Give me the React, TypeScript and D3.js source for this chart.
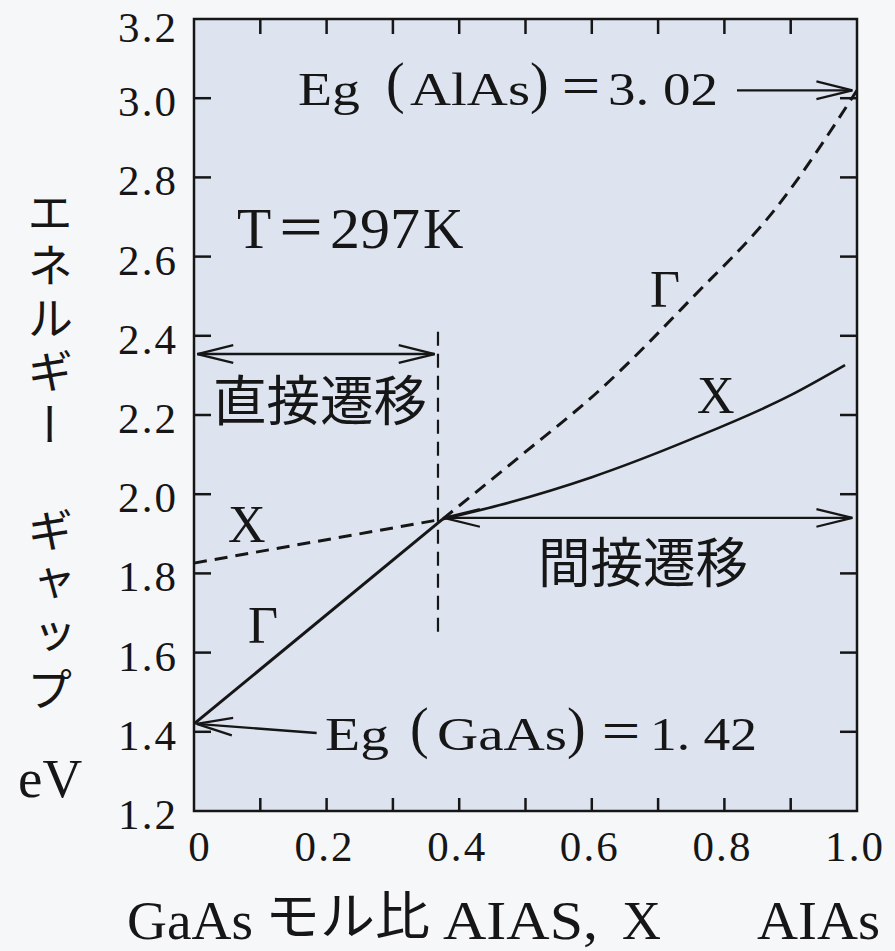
import React, { useRef, useEffect } from 'react'
import * as d3 from 'd3'

// axis ticks
const xTickValues = [0, 0.2, 0.4, 0.6, 0.8, 1.0]
const xTickLabels = ['0', '0.2', '0.4', '0.6', '0.8', '1.0']
const xMinorTicks = [0.1, 0.2, 0.3, 0.4, 0.5, 0.6, 0.7, 0.8, 0.9]
const yTickValues = [1.2, 1.4, 1.6, 1.8, 2.0, 2.2, 2.4, 2.6, 2.8, 3.0, 3.2]
const yTickLabels = ['1.2', '1.4', '1.6', '1.8', '2.0', '2.2', '2.4', '2.6', '2.8', '3.0', '3.2']
const yInnerTicks = [1.4, 1.6, 1.8, 2.0, 2.2, 2.4, 2.6, 2.8, 3.0]

// band edges [mole fraction x, energy eV]
const gammaDirect = [[0, 1.42], [0.375, 1.937]]
const gammaIndirect = [[0.375, 1.937], [0.492, 2.096], [0.612, 2.263], [0.748, 2.49], [0.879, 2.725], [1.0, 3.02]]
const xValleyDirect = [[0, 1.826], [0.375, 1.937]]
const xValleyIndirect = [[0.375, 1.937], [0.46, 1.972], [0.6, 2.043], [0.75, 2.139], [0.9, 2.25], [0.982, 2.326]]

// boundary between direct / indirect
const boundaryX = 0.368
const boundaryRange = [1.637, 2.41]

// gap values
const egGaAs = 1.42
const egAlAs = 3.02

const yTitle = 'エネルギー　ギャップ'

const SERIF = "'Liberation Serif', serif"
const CJK = "'Noto Sans CJK JP', sans-serif"
const INK = '#161616'

export default function App() {
    const ref = useRef(null)

    useEffect(() => {
        d3.select(ref.current).selectAll('*').remove()
        const svg = d3.select(ref.current)

        const width = 895
        const height = 951

        const x = d3.scaleLinear().domain([0, 1]).range([194, 857])
        const y = d3.scaleLinear().domain([1.2, 3.2]).range([811, 19])

        svg.append('rect')
            .attr('x', 0).attr('y', 0)
            .attr('width', width).attr('height', height)
            .attr('fill', '#f6f7f9')

        // plot area
        svg.append('rect')
            .attr('x', x(0)).attr('y', y(3.2))
            .attr('width', x(1) - x(0)).attr('height', y(1.2) - y(3.2))
            .attr('fill', '#dde4f0')

        // ticks (inward, all four sides)
        const ticks = svg.append('g').attr('stroke', INK).attr('stroke-width', 2.5)
        xMinorTicks.forEach(v => {
            ticks.append('line').attr('x1', x(v)).attr('x2', x(v)).attr('y1', y(3.2)).attr('y2', y(3.2) + 15)
            ticks.append('line').attr('x1', x(v)).attr('x2', x(v)).attr('y1', y(1.2)).attr('y2', y(1.2) - 13)
        })
        yInnerTicks.forEach(v => {
            ticks.append('line').attr('x1', x(0)).attr('x2', x(0) + 17).attr('y1', y(v)).attr('y2', y(v))
            ticks.append('line').attr('x1', x(1)).attr('x2', x(1) - 17).attr('y1', y(v)).attr('y2', y(v))
        })

        svg.append('rect')
            .attr('x', x(0)).attr('y', y(3.2))
            .attr('width', x(1) - x(0)).attr('height', y(1.2) - y(3.2))
            .attr('fill', 'none')
            .attr('stroke', INK)
            .attr('stroke-width', 2.5)

        // tick labels
        svg.append('g').selectAll('text')
            .data(yTickValues)
            .enter().append('text')
            .attr('x', 176)
            .attr('y', d => Math.max(y(d) + 18, 42))
            .attr('text-anchor', 'end')
            .attr('textLength', 58)
            .attr('lengthAdjust', 'spacing')
            .style('font-family', SERIF)
            .style('font-size', '43px')
            .attr('fill', INK)
            .text((d, i) => yTickLabels[i])

        svg.append('g').selectAll('text')
            .data(xTickValues)
            .enter().append('text')
            .attr('x', d => x(d) + (d === 0 ? 5 : -3))
            .attr('y', 861)
            .attr('text-anchor', 'middle')
            .attr('textLength', d => d === 0 ? null : 58)
            .attr('lengthAdjust', 'spacing')
            .style('font-family', SERIF)
            .style('font-size', '43px')
            .attr('fill', INK)
            .text((d, i) => xTickLabels[i])

        // curves
        const line = d3.line().x(d => x(d[0])).y(d => y(d[1]))
        const smooth = d3.line().x(d => x(d[0])).y(d => y(d[1])).curve(d3.curveMonotoneX)

        svg.append('path').attr('d', line(gammaDirect))
            .attr('fill', 'none').attr('stroke', INK).attr('stroke-width', 3)
        svg.append('path').attr('d', smooth(gammaIndirect))
            .attr('fill', 'none').attr('stroke', INK).attr('stroke-width', 3)
            .attr('stroke-dasharray', '13 8')
        svg.append('path').attr('d', line(xValleyDirect))
            .attr('fill', 'none').attr('stroke', INK).attr('stroke-width', 3)
            .attr('stroke-dasharray', '13 8')
        svg.append('path').attr('d', smooth(xValleyIndirect))
            .attr('fill', 'none').attr('stroke', INK).attr('stroke-width', 2.6)

        svg.append('line')
            .attr('x1', x(boundaryX)).attr('x2', x(boundaryX))
            .attr('y1', y(boundaryRange[1])).attr('y2', y(boundaryRange[0]))
            .attr('stroke', INK).attr('stroke-width', 2.2)
            .attr('stroke-dasharray', '14 8')

        // arrows
        const arrows = svg.append('g').attr('stroke', INK).attr('stroke-width', 2.3).attr('fill', 'none')
        const head = (tip, from) => {
            const ang = Math.atan2(tip[1] - from[1], tip[0] - from[0])
            const L = 37
            const a = 0.24
            const p1 = [tip[0] - L * Math.cos(ang - a), tip[1] - L * Math.sin(ang - a)]
            const p2 = [tip[0] - L * Math.cos(ang + a), tip[1] - L * Math.sin(ang + a)]
            arrows.append('path').attr('d', `M${p1[0]},${p1[1]}L${tip[0]},${tip[1]}L${p2[0]},${p2[1]}`)
        }
        const arrow = (a, b, both) => {
            arrows.append('line').attr('x1', a[0]).attr('y1', a[1]).attr('x2', b[0]).attr('y2', b[1])
            head(b, a)
            if (both) head(a, b)
        }

        // direct transition range
        arrow([x(0.005), y(2.354)], [x(0.363), y(2.354)], true)
        // indirect transition range
        arrow([x(0.377), y(1.94)], [x(0.993), y(1.94)], true)
        // Eg(AlAs)
        arrow([x(0.819), y(egAlAs)], [x(0.993), y(egAlAs)], false)
        // Eg(GaAs)
        arrow([x(0.185), y(1.397)], [x(0.004), y(egGaAs)], false)

        // annotation texts
        const label = (txt, px, py, size, font, len, anchor) => {
            const t = svg.append('text')
                .attr('x', px).attr('y', py)
                .attr('text-anchor', anchor || 'start')
                .style('font-family', font)
                .style('font-size', size + 'px')
                .attr('fill', INK)
                .text(txt)
            if (len) t.attr('textLength', len).attr('lengthAdjust', 'spacingAndGlyphs')
            return t
        }

        // Eg (AlAs) = 3.02
        label('Eg', 298, 105, 46, SERIF, 62)
        label('(', 386, 102, 56, SERIF)
        label('AlAs', 410, 105, 46, SERIF, 120)
        label(')', 530, 102, 56, SERIF)
        label('＝', 581, 103, 44, CJK, null, 'middle')
        label('3. 02', 608, 105, 46, SERIF, 110)

        // Eg (GaAs) = 1.42
        label('Eg', 325, 750, 46, SERIF, 64)
        label('(', 410, 747, 56, SERIF)
        label('GaAs', 437, 750, 46, SERIF, 130)
        label(')', 567, 747, 56, SERIF)
        label('＝', 621, 748, 44, CJK, null, 'middle')
        label('1. 42', 650, 750, 46, SERIF, 107)

        // T = 297 K
        label('T', 237, 248, 56, SERIF)
        label('＝', 301, 246, 50, CJK, null, 'middle')
        label('297', 330, 248, 56, SERIF, 90)
        label('K', 423, 248, 56, SERIF)

        label('直接遷移', 213, 421, 54, CJK, 214)
        label('間接遷移', 538, 583, 54, CJK, 210)
        label('X', 228, 542, 52, SERIF)
        label('Γ', 248, 643, 52, SERIF)
        label('Γ', 650, 307, 52, SERIF)
        label('X', 697, 413, 52, SERIF)

        // y axis title (vertical)
        svg.append('text')
            .attr('x', 50)
            .attr('y', 189)
            .style('writing-mode', 'vertical-rl')
            .style('font-family', CJK)
            .style('font-size', '46px')
            .style('letter-spacing', '7px')
            .attr('fill', INK)
            .text(yTitle)
        label('eV', 18, 797, 55, SERIF)

        // x axis title
        label('GaAs', 127, 939, 54, SERIF, 126)
        label('モル比', 265, 935, 52, CJK, 165)
        label('AIAS,', 443, 939, 54, SERIF, 155)
        label('X', 622, 939, 54, SERIF)
        label('AIAs', 757, 939, 54, SERIF, 123)
    }, [])

    return (
        <svg ref={ref} width={895} height={951}
            style={{ position: 'absolute', left: 0, top: 0, display: 'block' }} />
    )
}
